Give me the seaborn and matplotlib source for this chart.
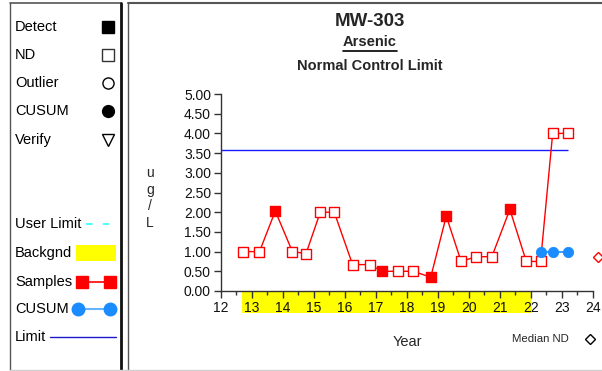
import numpy as np
import pandas as pd
import matplotlib
matplotlib.use("Agg")
import matplotlib.pyplot as plt
import matplotlib.transforms as mtransforms
from matplotlib.patches import Rectangle
from matplotlib.ticker import MultipleLocator, FormatStrFormatter
import seaborn as sns

# ---- data ----
sample_years = [12.73, 13.25, 13.76, 14.31, 14.75, 15.21, 15.66, 16.25, 16.82, 17.19, 17.73,
                18.21, 18.77, 19.27, 19.75, 20.23, 20.74, 21.32, 21.85, 22.31, 22.70, 23.21]
sample_values = [1.00, 1.00, 2.03, 1.00, 0.95, 2.00, 2.00, 0.67, 0.67, 0.50, 0.50,
                 0.50, 0.35, 1.90, 0.75, 0.87, 0.87, 2.07, 0.75, 0.75, 4.00, 4.00]
detected = [0, 0, 1, 0, 0, 0, 0, 0, 0, 1, 0,
            0, 1, 1, 0, 0, 0, 1, 0, 0, 0, 0]
cusum_years = [22.31, 22.70, 23.21]
cusum_values = [1.00, 1.00, 1.00]
control_limit = 3.57
limit_end = 23.21
median_nd = 0.87
median_nd_x = 24.15
background_start = 12.68
background_end = 22.03
y_ticks = [0.0, 0.5, 1.0, 1.5, 2.0, 2.5, 3.0, 3.5, 4.0, 4.5, 5.0]
x_ticks = list(range(12, 25))

samples = pd.DataFrame({"year": sample_years, "value": sample_values,
                        "detect": [bool(d) for d in detected]})
cusum = pd.DataFrame({"year": cusum_years, "value": cusum_values})

sns.set_style("ticks")
plt.rcParams["font.family"] = ["Liberation Sans", "DejaVu Sans"]

W, H = 602, 371
fig = plt.figure(figsize=(W / 100, H / 100), dpi=100)

# full-figure overlay in pixel units for frames, legend panel and titles
ov = fig.add_axes([0, 0, 1, 1], zorder=0)
ov.set_xlim(0, W)
ov.set_ylim(H, 0)
ov.axis("off")
ov.patch.set_visible(False)

# panel frames
ov.plot([10, 10], [3, 370], color="#555555", lw=1)
ov.plot([10, 121], [3, 3], color="#555555", lw=1.2)
ov.plot([121, 121], [3, 370], color="#111111", lw=2)
ov.plot([128, 128], [3, 370], color="#555555", lw=1)
ov.plot([128, 602], [3, 3], color="#555555", lw=1.5)
ov.plot([10, 602], [370, 370], color="#d0d0d0", lw=1)

# legend panel
fs = 10.5
items = [("Detect", 27), ("ND", 55), ("Outlier", 83), ("CUSUM", 111), ("Verify", 140),
         ("User Limit", 224), ("Backgnd", 253), ("Samples", 282), ("CUSUM", 309), ("Limit", 337)]
for label, yy in items:
    ov.text(15, yy, label, fontsize=fs, ha="left", va="center", color="black")
ov.plot([107.5], [27], marker="s", ms=8, color="black", mec="black")
ov.plot([107.5], [55], marker="s", ms=8, mfc="white", mec="#333333", mew=1)
ov.plot([107.5], [83], marker="o", ms=8, mfc="white", mec="black", mew=1)
ov.plot([107.5], [111], marker="o", ms=8.5, color="black")
ov.plot([108], [140], marker="v", ms=9, mfc="white", mec="black", mew=1)
ov.plot([86, 110], [224, 224], color="#33ffff", lw=1.2, dashes=(4, 6))
ov.add_patch(Rectangle((76, 245), 40, 16, facecolor="#ffff00", edgecolor="none"))
ov.plot([82, 110], [282, 282], color="red", lw=1.2, marker="s", ms=8.5, mec="red")
ov.plot([78, 110], [309, 309], color="#66b3ff", lw=1.5)
ov.plot([78, 110], [309, 309], lw=0, marker="o", ms=9, color="#1a8cff")
ov.plot([50, 116], [337, 337], color="#1a1acc", lw=1)

# titles
ov.text(370, 22, "MW-303", fontsize=13.5, fontweight="bold", ha="center", va="center")
ov.text(370, 42.5, "Arsenic", fontsize=10.5, fontweight="bold", ha="center", va="center")
ov.plot([343, 397], [51, 51], color="black", lw=1.2)
ov.text(370, 66, "Normal Control Limit", fontsize=10.5, fontweight="bold", ha="center", va="center")
ov.text(150, 198, "u\ng\n/\nL", fontsize=10, ha="center", va="center", linespacing=1.25)
ov.text(407, 342, "Year", fontsize=10.5, ha="center", va="center")
ov.text(512, 339, "Median ND", fontsize=8.2, ha="left", va="center")
ov.plot([590], [339], marker="D", ms=5, mfc="white", mec="black", mew=1)

# main chart
ax = fig.add_axes([220.7 / W, 1 - 291 / H, (593 - 220.7) / W, (291 - 94) / H], zorder=1)
ax.patch.set_visible(False)

# background period band beneath the x axis
band_tf = mtransforms.blended_transform_factory(ax.transData, ax.transAxes)
ax.add_patch(Rectangle((background_start, -0.112), background_end - background_start, 0.112,
                       transform=band_tf, facecolor="#ffff00", edgecolor="none",
                       clip_on=False, zorder=0.5))

ax.hlines(control_limit, 12, limit_end, color="#1a1aff", lw=1, zorder=2)

sns.lineplot(data=samples, x="year", y="value", color="red", lw=1, sort=False,
             estimator=None, ax=ax, zorder=3)
sns.scatterplot(data=samples[~samples["detect"]], x="year", y="value", marker="s", s=44,
                color="red", facecolor="white", edgecolor="red", linewidth=1, ax=ax, zorder=4)
sns.scatterplot(data=samples[samples["detect"]], x="year", y="value", marker="s", s=44,
                color="red", edgecolor="red", linewidth=1, ax=ax, zorder=4)
sns.lineplot(data=cusum, x="year", y="value", color="#1a8cff", lw=1.2, sort=False,
             estimator=None, ax=ax, zorder=5)
sns.scatterplot(data=cusum, x="year", y="value", marker="o", s=55, color="#1a8cff",
                edgecolor="#1a8cff", ax=ax, zorder=6)
ax.plot([median_nd_x], [median_nd], marker="D", ms=5, mfc="white", mec="red", mew=1,
        clip_on=False, zorder=6)

ax.set_xlim(12, 24)
ax.set_ylim(0, 5)
ax.set_xticks(x_ticks)
ax.xaxis.set_minor_locator(MultipleLocator(0.5))
ax.set_yticks(y_ticks)
ax.yaxis.set_major_formatter(FormatStrFormatter("%.2f"))
ax.set_xlabel("")
ax.set_ylabel("")
for side in ("top", "right"):
    ax.spines[side].set_visible(False)
for side in ("left", "bottom"):
    ax.spines[side].set_color("#333333")
    ax.spines[side].set_linewidth(1)
ax.tick_params(axis="both", which="major", length=5, width=1, color="#333333",
               labelsize=10, labelcolor="#111111", direction="out", pad=2)
ax.tick_params(axis="x", which="minor", length=3, width=1, color="#333333", direction="out")
ax.tick_params(axis="y", which="minor", length=0)

fig.savefig("out.png", dpi=100)
